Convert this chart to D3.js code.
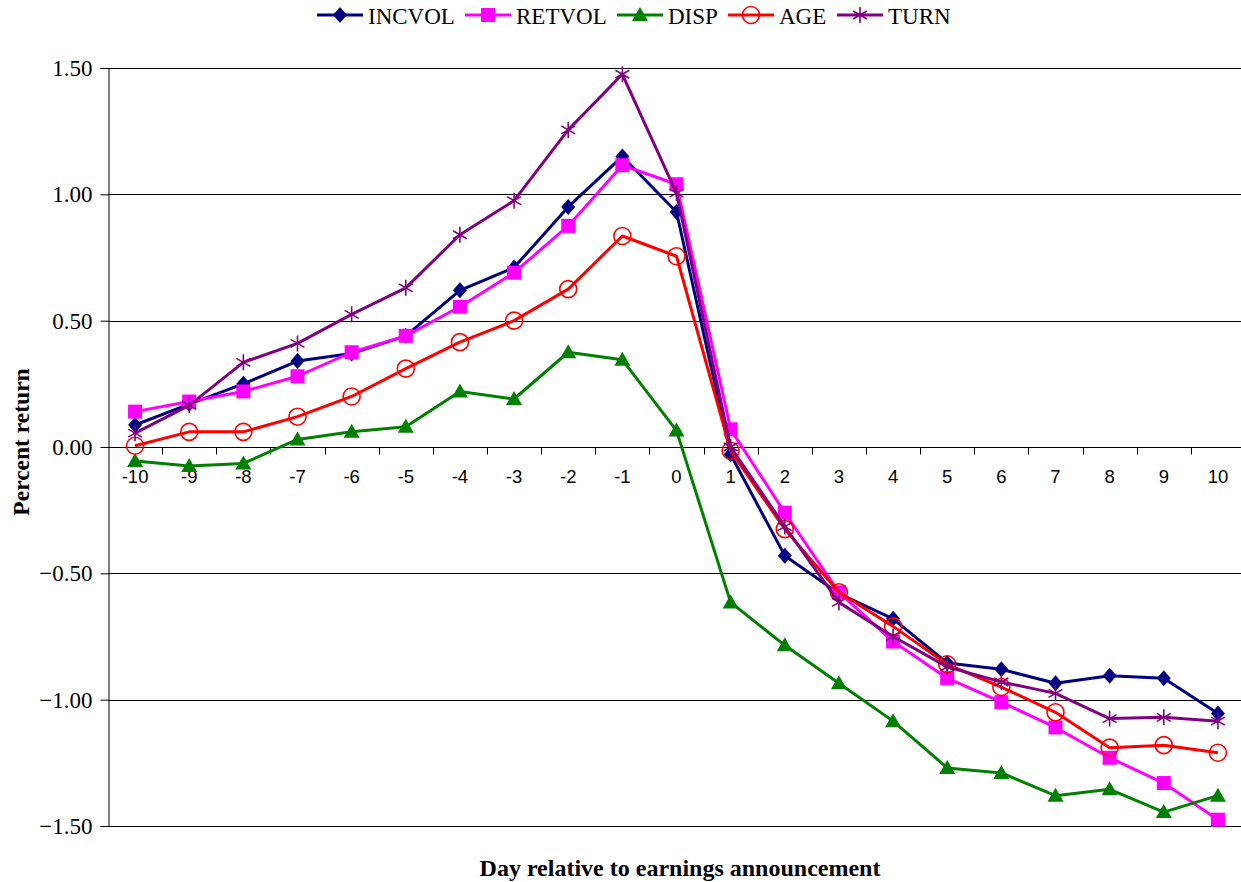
<!DOCTYPE html>
<html><head><meta charset="utf-8">
<script src="https://cdn.jsdelivr.net/npm/d3@7"></script>
<style>body{margin:0;background:#fff}</style>
</head><body>
<svg id="chart" width="1241" height="882"></svg>
<script>
const days = [-10,-9,-8,-7,-6,-5,-4,-3,-2,-1,0,1,2,3,4,5,6,7,8,9,10];
const yTicks = [1.5,1.0,0.5,0,-0.5,-1.0,-1.5];
const seriesNames = ["INCVOL","RETVOL","DISP","AGE","TURN"];
const incvol = [0.087,0.17,0.25,0.34,0.37,0.44,0.62,0.71,0.95,1.15,0.93,-0.03,-0.43,-0.58,-0.68,-0.855,-0.88,-0.935,-0.905,-0.915,-1.055];
const retvol = [0.14,0.18,0.22,0.28,0.375,0.44,0.555,0.69,0.875,1.115,1.04,0.07,-0.26,-0.575,-0.77,-0.915,-1.01,-1.11,-1.23,-1.33,-1.475];
const disp = [-0.055,-0.075,-0.065,0.03,0.06,0.08,0.22,0.19,0.375,0.345,0.065,-0.615,-0.785,-0.935,-1.085,-1.27,-1.29,-1.38,-1.355,-1.445,-1.38];
const age = [0.005,0.06,0.06,0.12,0.2,0.31,0.415,0.5,0.625,0.835,0.755,-0.015,-0.325,-0.575,-0.71,-0.86,-0.95,-1.05,-1.19,-1.18,-1.21];
const turn = [0.055,0.165,0.335,0.41,0.525,0.63,0.84,0.975,1.255,1.475,1.005,0.0,-0.315,-0.615,-0.75,-0.87,-0.93,-0.975,-1.075,-1.07,-1.085];

const colors = {INCVOL:"#000080",RETVOL:"#FF00FF",DISP:"#008000",AGE:"#FF0000",TURN:"#800080"};
const valuesBy = {INCVOL:incvol,RETVOL:retvol,DISP:disp,AGE:age,TURN:turn};

const serif = "'Liberation Serif', 'Times New Roman', serif";
const sans = "'Liberation Sans', Arial, sans-serif";

const svg = d3.select("#chart");
const mLeft = 108, mRight = 1245, mTop = 68, mBottom = 826;
const x = d3.scaleBand().domain(days).range([mLeft, mRight]);
const y = d3.scaleLinear().domain([-1.5,1.5]).range([mBottom, mTop]);
const cx = d => x(d) + x.bandwidth()/2;

// gridlines
svg.append("g").selectAll("line").data(yTicks.filter(t=>t!==0)).join("line")
  .attr("x1", mLeft).attr("x2", mRight)
  .attr("y1", d=>Math.round(y(d))+0.5).attr("y2", d=>Math.round(y(d))+0.5)
  .attr("stroke","#000").attr("stroke-width",1);

// y axis
const yAxis = d3.axisLeft(y).tickValues(yTicks).tickFormat(d3.format(".2f")).tickSize(8).tickPadding(8);
const gy = svg.append("g").attr("transform",`translate(${mLeft+0.5},0)`).call(yAxis);
gy.select(".domain").attr("stroke","#000");
gy.selectAll(".tick line").attr("stroke","#000");
gy.selectAll("text").attr("font-family",serif).attr("font-size",23).attr("fill","#000");

// x axis at zero
const y0 = Math.round(y(0))+0.5;
svg.append("line").attr("x1",mLeft).attr("x2",mRight).attr("y1",y0).attr("y2",y0).attr("stroke","#000");
const bounds = days.slice(1).map(d => x(d));
svg.append("g").selectAll("line").data(bounds).join("line")
  .attr("x1",d=>Math.round(d)+0.5).attr("x2",d=>Math.round(d)+0.5)
  .attr("y1",y0).attr("y2",y0+7).attr("stroke","#000");
svg.append("g").selectAll("text").data(days).join("text")
  .attr("x",d=>cx(d)).attr("y",y0+35)
  .attr("text-anchor","middle")
  .attr("font-family",sans).attr("font-size",18.5)
  .text(d=>d);

// titles
svg.append("text").attr("x",680).attr("y",876).attr("text-anchor","middle")
  .attr("font-family",serif).attr("font-weight","bold").attr("font-size",24)
  .text("Day relative to earnings announcement");
svg.append("text").attr("transform","translate(29,442) rotate(-90)").attr("text-anchor","middle")
  .attr("font-family",serif).attr("font-weight","bold").attr("font-size",23.5)
  .text("Percent return");

// markers
function marker(g, name, px, py) {
  const c = colors[name];
  if (name==="INCVOL") {
    g.append("path").attr("d",`M${px},${py-8}L${px+7},${py}L${px},${py+8}L${px-7},${py}Z`).attr("fill",c);
  } else if (name==="RETVOL") {
    g.append("rect").attr("x",px-7).attr("y",py-7).attr("width",14).attr("height",14).attr("fill",c);
  } else if (name==="DISP") {
    g.append("path").attr("d",`M${px},${py-8}L${px+8},${py+6}L${px-8},${py+6}Z`).attr("fill",c);
  } else if (name==="AGE") {
    g.append("circle").attr("cx",px).attr("cy",py).attr("r",8.5).attr("fill","none").attr("stroke",c).attr("stroke-width",1.6);
  } else if (name==="TURN") {
    const r=8;
    g.append("path").attr("d",`M${px},${py-r}L${px},${py+r}M${px-r*0.87},${py-r*0.5}L${px+r*0.87},${py+r*0.5}M${px-r*0.87},${py+r*0.5}L${px+r*0.87},${py-r*0.5}`)
      .attr("stroke",c).attr("stroke-width",1.6).attr("fill","none");
  }
}

const line = d3.line().x((v,i)=>cx(days[i])).y(v=>y(v));
seriesNames.forEach(name=>{
  const g = svg.append("g");
  g.append("path").datum(valuesBy[name]).attr("d",line).attr("fill","none")
    .attr("stroke",colors[name]).attr("stroke-width",3).attr("stroke-linejoin","round");
  valuesBy[name].forEach((v,i)=>marker(g,name,cx(days[i]),y(v)));
});

// legend
const legendX = [317,465,617,728,837];
const lg = svg.append("g");
seriesNames.forEach((name,i)=>{
  const lx = legendX[i], ly = 15;
  lg.append("line").attr("x1",lx).attr("x2",lx+46).attr("y1",ly).attr("y2",ly).attr("stroke",colors[name]).attr("stroke-width",3);
  marker(lg,name,lx+23,ly);
  lg.append("text").attr("x",lx+51).attr("y",24)
    .attr("font-family",serif).attr("font-size",23)
    .text(name);
});
</script>
</body></html>
